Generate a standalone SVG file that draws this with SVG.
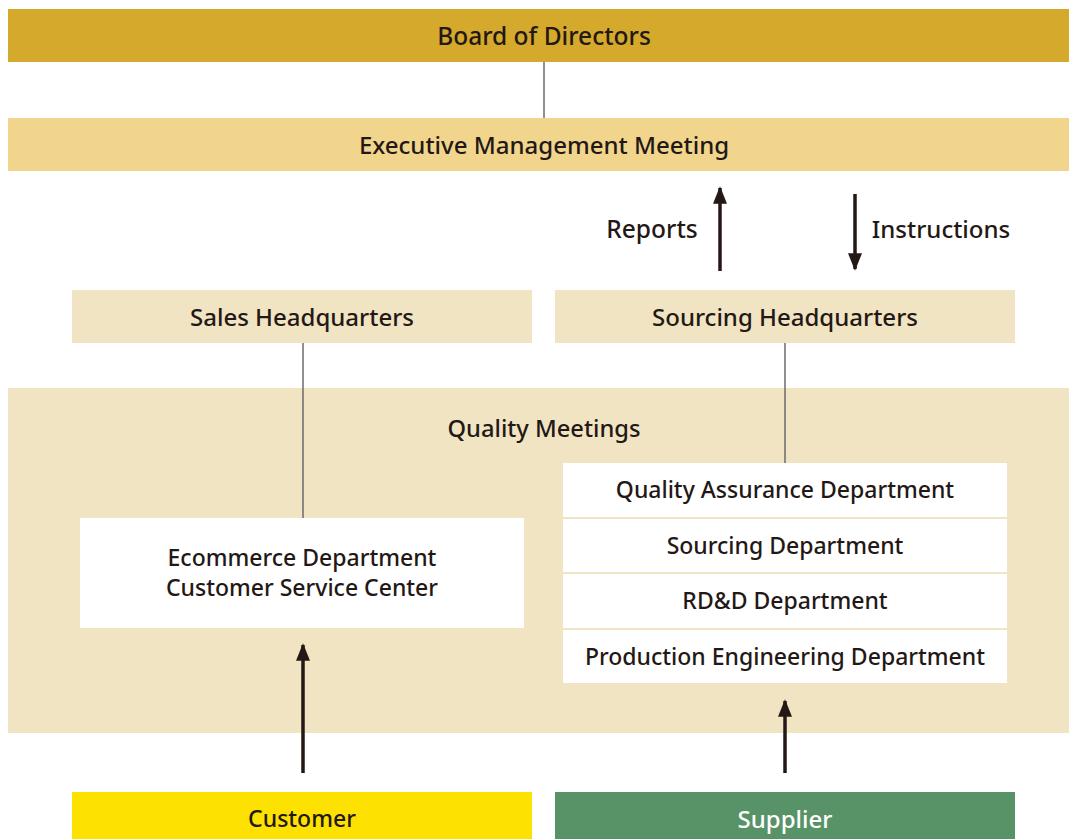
<svg xmlns="http://www.w3.org/2000/svg" width="1069" height="839" viewBox="0 0 1069 839">
<defs>
<marker id="ah" viewBox="0 0 10 10" refX="9" refY="5" markerWidth="5" markerHeight="5" markerUnits="strokeWidth" orient="auto">
<path d="M0,1 L10,5 L0,9 Z" fill="#231815"/>
</marker>
</defs>
<style>
text{font-family:"Noto Sans","Liberation Sans",sans-serif;font-size:23px;fill:#231815;text-anchor:middle;dominant-baseline:central;font-weight:500}
.l{font-size:24px}
.xl{font-size:24.5px}
.thin{stroke:#6b6b6b;stroke-width:1.5;fill:none}
.arr{stroke:#231815;stroke-width:3.5;fill:none;marker-end:url(#ah)}
.sep{stroke:#f1e4c3;stroke-width:2}
</style>
<rect width="1069" height="839" fill="#ffffff"/>
<g id="quality-meetings">
<rect x="8" y="388" width="1061" height="345" fill="#f1e4c3"/>
<text x="544" y="428" style="font-size:23.7px">Quality Meetings</text>
</g>
<g id="connectors">
<line class="thin" x1="544" y1="62" x2="544" y2="118"/>
<line class="thin" x1="303" y1="343" x2="303" y2="518"/>
<line class="thin" x1="785" y1="343" x2="785" y2="463"/>
<line class="arr" x1="720" y1="271" x2="720" y2="188"/>
<line class="arr" x1="855" y1="194" x2="855" y2="269"/>
<line class="arr" x1="303" y1="773" x2="303" y2="645"/>
<line class="arr" x1="785" y1="773" x2="785" y2="701"/>
</g>
<g id="board">
<rect x="8" y="9" width="1061" height="53" fill="#d5a92c"/>
<text class="xl" x="544" y="35">Board of Directors</text>
</g>
<g id="executive">
<rect x="8" y="118" width="1061" height="53" fill="#f2d58d"/>
<text class="l" x="544" y="144">Executive Management Meeting</text>
</g>
<g id="reports-label"><text class="xl" x="652" y="228">Reports</text></g>
<g id="instructions-label"><text class="l" x="941" y="228">Instructions</text></g>
<g id="sales-hq">
<rect x="72" y="290" width="460" height="53" fill="#f1e4c3"/>
<text class="l" x="302" y="316">Sales Headquarters</text>
</g>
<g id="sourcing-hq">
<rect x="555" y="290" width="460" height="53" fill="#f1e4c3"/>
<text class="l" x="785" y="316">Sourcing Headquarters</text>
</g>
<g id="ecommerce">
<rect x="80" y="518" width="444" height="110" fill="#ffffff"/>
<text x="302" y="557">Ecommerce Department</text>
<text x="302" y="587">Customer Service Center</text>
</g>
<g id="departments">
<rect x="563" y="463" width="444" height="220" fill="#ffffff"/>
<line class="sep" x1="563" y1="518" x2="1007" y2="518"/>
<line class="sep" x1="563" y1="573" x2="1007" y2="573"/>
<line class="sep" x1="563" y1="629" x2="1007" y2="629"/>
<text x="785" y="489">Quality Assurance Department</text>
<text x="785" y="545">Sourcing Department</text>
<text x="785" y="600">RD&amp;D Department</text>
<text x="785" y="656">Production Engineering Department</text>
</g>
<g id="customer">
<rect x="72" y="792" width="460" height="47" fill="#fde100"/>
<text x="302" y="818">Customer</text>
</g>
<g id="supplier">
<rect x="555" y="792" width="460" height="47" fill="#579367"/>
<text class="l" x="785" y="818" style="fill:#ffffff">Supplier</text>
</g>
</svg>
